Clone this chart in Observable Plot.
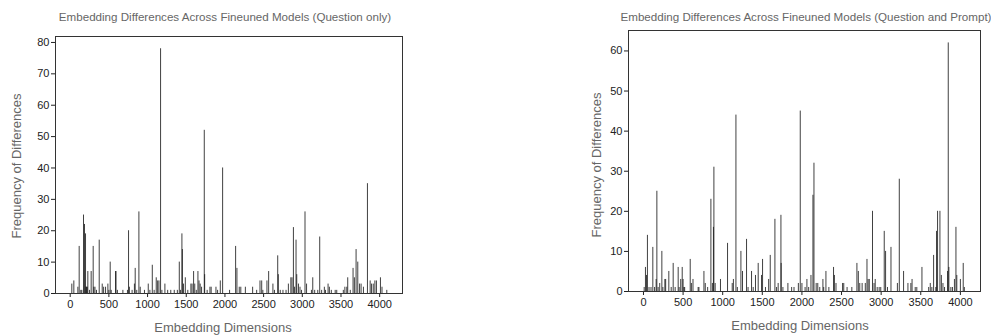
<!DOCTYPE html>
<html>
<head>
<meta charset="utf-8">
<script src="https://cdn.jsdelivr.net/npm/d3@7"></script>
<script src="https://cdn.jsdelivr.net/npm/@observablehq/plot@0.6"></script>
<style>
  html, body { margin: 0; padding: 0; background: #fff; }
  #wrap { position: relative; width: 991px; height: 335px; overflow: hidden; font-family: "Liberation Sans", Arial, sans-serif; }
  .panel { position: absolute; top: 0; }
  .title { position: absolute; font-size: 11.6px; color: #666; white-space: nowrap; transform: translateX(-50%); }
  .xlab { position: absolute; font-size: 13px; color: #666; white-space: nowrap; transform: translate(-50%, -50%); }
  .ylab { position: absolute; font-size: 13px; color: #666; white-space: nowrap; transform: translate(-50%, -50%) rotate(-90deg); }
</style>
</head>
<body>
<div id="wrap"></div>
<script>
// ---- Data: Question only ----
const qDims = [21,47,99,116,137,150,172,185,198,205,212,220,228,250,271,297,305,320,340,375,414,432,457,487,500,517,530,586,592,610,681,740,754,765,800,830,840,860,888,905,960,1009,1030,1061,1085,1112,1130,1147,1168,1185,1224,1260,1300,1345,1385,1410,1425,1444,1450,1465,1488,1520,1560,1575,1595,1610,1630,1651,1665,1680,1698,1733,1738,1770,1806,1822,1884,1905,1940,1970,2060,2138,2155,2185,2205,2264,2358,2410,2453,2475,2490,2543,2565,2620,2640,2682,2690,2715,2750,2790,2820,2852,2867,2885,2900,2919,2928,2950,2970,2990,3035,3055,3118,3135,3160,3200,3225,3250,3285,3300,3333,3350,3375,3425,3445,3530,3550,3575,3587,3620,3656,3673,3695,3717,3740,3760,3790,3842,3877,3895,3917,3938,3958,4010,4030,4092];
const qVals = [3,4,2,15,1,1,25,22,19,2,2,2,7,1,7,15,2,2,1,17,3,2,2,3,1,10,1,7,7,1,1,1,20,2,1,3,8,1,26,2,1,3,1,9,1,5,4,4,78,1,3,1,1,1,1,10,1,19,14,3,5,1,3,3,7,3,1,7,4,3,2,52,6,1,2,2,2,1,4,40,1,15,8,2,2,2,2,1,4,4,1,4,7,3,1,12,6,1,1,1,3,5,5,21,2,17,6,3,2,1,26,3,1,5,1,1,18,1,2,1,3,2,1,1,1,1,2,2,5,1,8,5,14,10,3,3,2,35,4,3,3,4,4,5,2,1];

// ---- Data: Question and Prompt ----
const pDims = [9,25,38,50,70,95,118,140,160,169,185,205,232,245,270,280,320,350,375,400,438,450,470,489,500,510,520,590,605,625,690,700,763,780,810,851,870,883,889,905,972,1061,1120,1135,1167,1185,1230,1250,1301,1320,1364,1385,1414,1448,1490,1503,1540,1580,1600,1659,1680,1700,1735,1738,1760,1823,1870,1900,1955,1979,2000,2040,2063,2085,2114,2139,2152,2180,2200,2225,2265,2275,2303,2340,2399,2410,2430,2513,2528,2570,2630,2694,2712,2730,2760,2800,2821,2835,2850,2891,2910,2925,2950,2975,2995,3039,3056,3080,3124,3205,3229,3283,3338,3375,3390,3430,3450,3515,3600,3620,3640,3662,3690,3699,3712,3742,3760,3780,3800,3838,3847,3855,3880,3900,3925,3944,3955,4000,4036,4050];
const pVals = [1,6,4,14,1,1,11,1,3,25,1,2,10,1,3,3,5,1,7,1,6,1,3,6,3,1,1,8,2,3,1,1,5,2,1,23,2,16,31,2,3,12,2,3,44,1,10,5,13,1,5,1,4,7,4,8,1,3,9,18,1,2,19,7,1,2,1,1,2,45,2,1,3,1,4,24,32,2,2,1,3,1,5,1,6,4,2,2,2,1,1,7,5,2,2,2,8,3,3,20,2,3,1,1,1,15,10,1,11,2,28,5,2,2,3,1,1,6,1,2,1,9,1,15,20,20,4,2,1,5,62,6,1,1,3,16,4,3,7,1];

const xTicks = [0,500,1000,1500,2000,2500,3000,3500,4000];
const qYTicks = [0,10,20,30,40,50,60,70,80];
const pYTicks = [0,10,20,30,40,50,60];

const titles = [
  "Embedding Differences Across Fineuned Models (Question only)",
  "Embedding Differences Across Fineuned Models (Question and Prompt)"
];
const xLabel = "Embedding Dimensions";
const yLabel = "Frequency of Differences";

function makeChart(dims, vals, cfg) {
  const data = dims.map((d, i) => ({dim: d, value: vals[i]}));
  return Plot.plot({
    width: cfg.width,
    height: 335,
    marginLeft: cfg.ml, marginRight: cfg.mr, marginTop: cfg.mt, marginBottom: cfg.mb,
    style: {fontFamily: "Liberation Sans, Arial, sans-serif", fontSize: "11px", color: "#222", background: "transparent"},
    x: {domain: cfg.xDomain, ticks: xTicks, tickFormat: d => String(d), tickSize: 4, tickPadding: 3, label: null},
    y: {domain: cfg.yDomain, ticks: cfg.yTicks, tickFormat: d => String(d), tickSize: 4, tickPadding: 2, label: null},
    marks: [
      Plot.ruleX(data, {x: "dim", y1: 0, y2: "value", stroke: "#111", strokeWidth: 1, strokeOpacity: 0.8}),
      Plot.frame({stroke: "#333", strokeWidth: 1})
    ]
  });
}

const wrap = document.getElementById("wrap");

const left = makeChart(qDims, qVals, {width: 495, ml: 55, mr: 93, mt: 36, mb: 42, xDomain: [-190, 4295], yDomain: [0, 81.9], yTicks: qYTicks});
left.classList.add("panel");
left.style.left = "0px";
wrap.appendChild(left);

const right = makeChart(pDims, pVals, {width: 496, ml: 133, mr: 11, mt: 30, mb: 44, xDomain: [-189, 4254], yDomain: [0, 65.1], yTicks: pYTicks});
right.classList.add("panel");
right.style.left = "495px";
wrap.appendChild(right);

function addText(cls, text, x, y) {
  const el = document.createElement("div");
  el.className = cls;
  el.textContent = text;
  el.style.left = x + "px";
  el.style.top = y + "px";
  wrap.appendChild(el);
}
addText("title", titles[0], 225, 10);
addText("title", titles[1], 806, 10);
addText("xlab", xLabel, 223, 327);
addText("xlab", xLabel, 800, 325);
addText("ylab", yLabel, 16, 166);
addText("ylab", yLabel, 596, 165);
</script>
</body>
</html>
